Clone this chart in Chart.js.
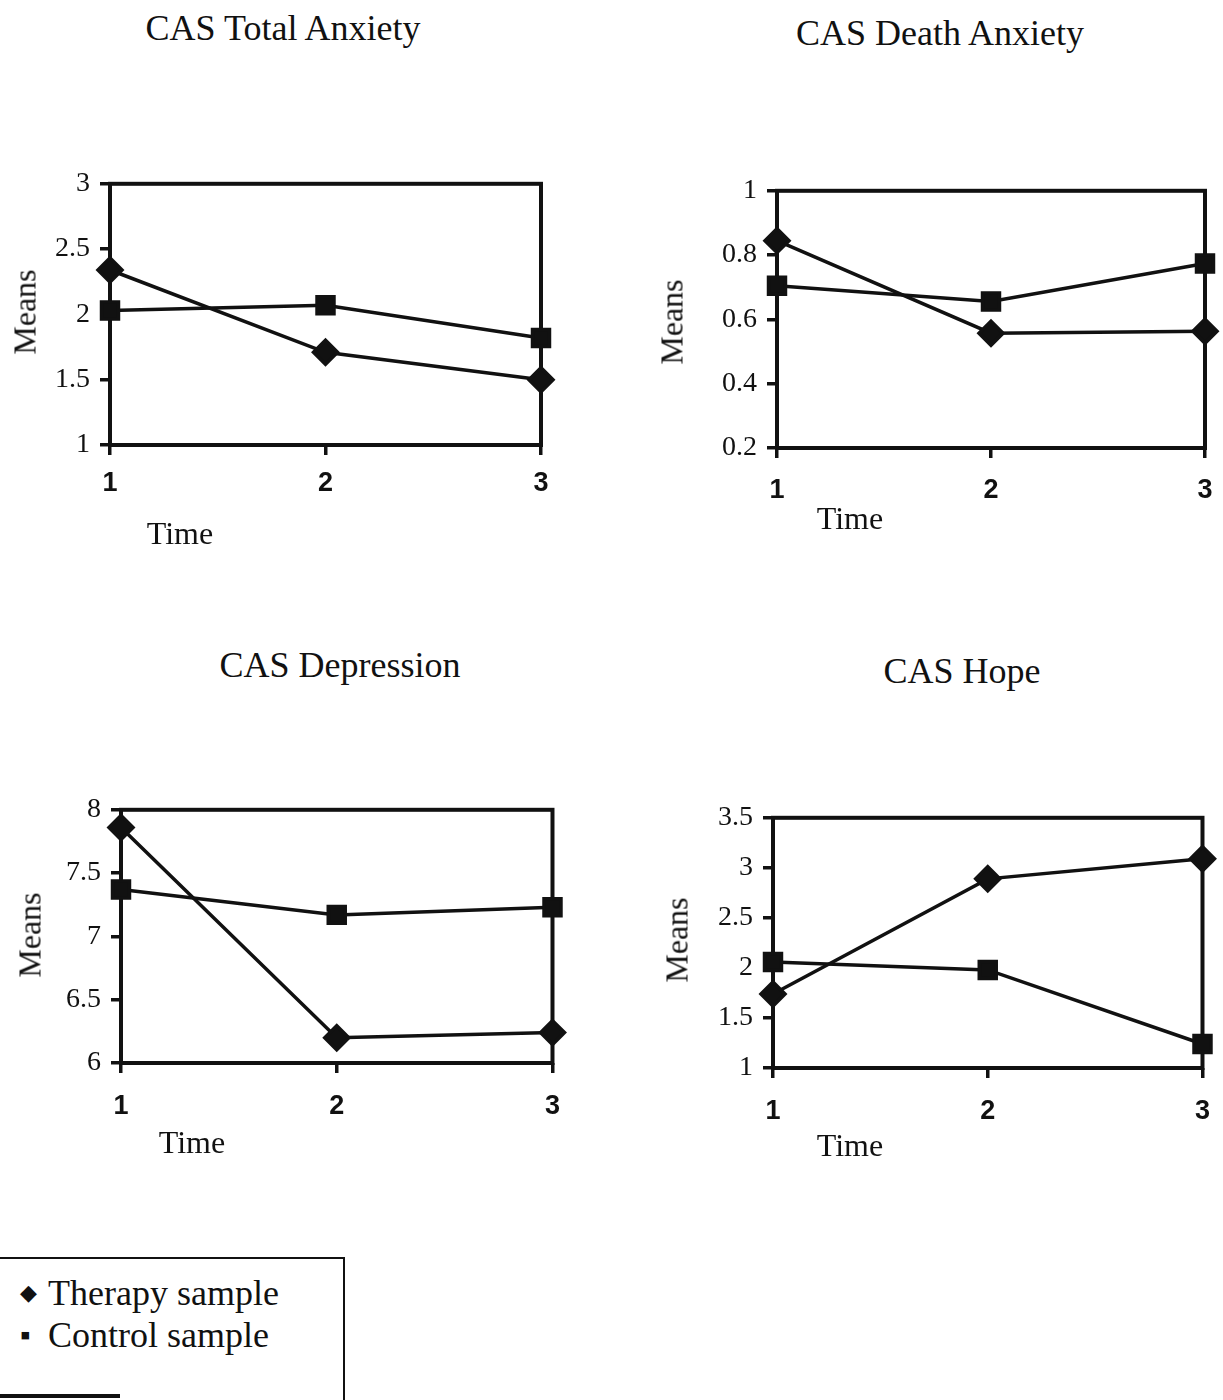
<!DOCTYPE html>
<html>
<head>
<meta charset="utf-8">
<script src="https://cdn.jsdelivr.net/npm/chart.js@4.4.1/dist/chart.umd.min.js"></script>
<style>
  body { margin: 0; background: #fff; width: 1223px; height: 1400px; position: relative; overflow: hidden; font-family: "Liberation Serif", serif; color: #111; }
  canvas { position: absolute; }
  .title { position: absolute; font-size: 36px; white-space: nowrap; transform: translate(-50%, -50%); }
  .axis-y { position: absolute; font-size: 32px; white-space: nowrap; transform: translate(-50%, -50%) rotate(-90deg); }
  .axis-x { position: absolute; font-size: 32px; white-space: nowrap; transform: translate(-50%, -50%); }
  .legend { position: absolute; left: -2px; top: 1257px; width: 345px; height: 160px; border-top: 2px solid #111; border-right: 2px solid #111; }
  .legend-bottom { position: absolute; left: 0; top: 1394px; width: 120px; height: 4px; background: #111; }
  .legend-row { position: absolute; left: 20px; font-size: 36px; white-space: nowrap; }
  .legend-row .mark { display: inline-block; width: 28px; font-size: 22px; vertical-align: 5px; }
  .legend-row .mark.sq { font-size: 30px; vertical-align: 2px; }
</style>
</head>
<body>

<script>
// Data
const timeLabels = ['1', '2', '3'];

const anxietyTherapy = [2.34, 1.71, 1.50];
const anxietyControl = [2.03, 2.07, 1.82];
const anxietyTicks = [1, 1.5, 2, 2.5, 3];

const deathTherapy = [0.845, 0.557, 0.563];
const deathControl = [0.705, 0.656, 0.774];
const deathTicks = [0.2, 0.4, 0.6, 0.8, 1];

const depressionTherapy = [7.86, 6.20, 6.24];
const depressionControl = [7.37, 7.17, 7.23];
const depressionTicks = [6, 6.5, 7, 7.5, 8];

const hopeTherapy = [1.74, 2.89, 3.09];
const hopeControl = [2.06, 1.98, 1.24];
const hopeTicks = [1, 1.5, 2, 2.5, 3, 3.5];

// Layout of each panel: plot box [left, top, right, bottom] and text positions
const Y_AXIS_W = 80;
const X_AXIS_H = 70;
const PAD = 24;

const panels = [
  { title: 'CAS Total Anxiety', therapy: anxietyTherapy, control: anxietyControl, ticks: anxietyTicks,
    box: [110, 181, 541, 445], titlePos: [283, 28], meansPos: [25, 312], timePos: [180, 533], xPad: 12 },
  { title: 'CAS Death Anxiety', therapy: deathTherapy, control: deathControl, ticks: deathTicks,
    box: [777, 188, 1205, 448], titlePos: [940, 33], meansPos: [672, 322], timePos: [850, 518], xPad: 16 },
  { title: 'CAS Depression', therapy: depressionTherapy, control: depressionControl, ticks: depressionTicks,
    box: [121, 807, 553, 1063], titlePos: [340, 665], meansPos: [30, 935], timePos: [192, 1142], xPad: 17 },
  { title: 'CAS Hope', therapy: hopeTherapy, control: hopeControl, ticks: hopeTicks,
    box: [773, 815, 1203, 1068], titlePos: [962, 671], meansPos: [677, 940], timePos: [850, 1145], xPad: 17 }
];

// Draws the closed frame round the plot area
const boxPlugin = {
  id: 'box',
  beforeDatasetsDraw(chart) {
    const { ctx, chartArea: a } = chart;
    ctx.save();
    ctx.lineWidth = 4;
    ctx.strokeStyle = '#111';
    ctx.strokeRect(a.left, a.top, a.right - a.left, a.bottom - a.top);
    ctx.restore();
  }
};

function addText(cls, text, pos) {
  const el = document.createElement('div');
  el.className = cls;
  el.textContent = text;
  el.style.left = pos[0] + 'px';
  el.style.top = pos[1] + 'px';
  document.body.appendChild(el);
}

function makePanel(p) {
  const [l, t, r, b] = p.box;
  const canvas = document.createElement('canvas');
  canvas.width = (r - l) + Y_AXIS_W + PAD * 2;
  canvas.height = (b - t) + X_AXIS_H + PAD * 2;
  canvas.style.left = (l - Y_AXIS_W - PAD) + 'px';
  canvas.style.top = (t - PAD) + 'px';
  document.body.appendChild(canvas);

  new Chart(canvas.getContext('2d'), {
    type: 'line',
    data: {
      labels: timeLabels,
      datasets: [
        { label: 'Therapy sample', data: p.therapy, borderColor: '#111', backgroundColor: '#111',
          borderWidth: 3.5, pointStyle: 'rectRot', pointRadius: 12, clip: false, tension: 0 },
        { label: 'Control sample', data: p.control, borderColor: '#111', backgroundColor: '#111',
          borderWidth: 3.5, pointStyle: 'rect', pointRadius: 12, clip: false, tension: 0 }
      ]
    },
    options: {
      responsive: false,
      animation: false,
      devicePixelRatio: 1,
      layout: { padding: PAD },
      plugins: { legend: { display: false }, tooltip: { enabled: false } },
      scales: {
        x: {
          offset: false,
          grid: { drawOnChartArea: false, drawTicks: true, tickLength: 10, lineWidth: 3.5, color: '#111' },
          border: { display: false },
          ticks: { color: '#111', padding: p.xPad, maxRotation: 0,
                   font: { family: 'Liberation Sans', size: 27, weight: 'bold' } },
          afterFit(scale) { scale.height = X_AXIS_H; }
        },
        y: {
          min: p.ticks[0],
          max: p.ticks[p.ticks.length - 1],
          afterBuildTicks(scale) { scale.ticks = p.ticks.map(v => ({ value: v })); },
          grid: { drawOnChartArea: false, drawTicks: true, tickLength: 10, lineWidth: 3.5, color: '#111' },
          border: { display: false },
          ticks: { color: '#111', padding: 10, callback: v => String(v),
                   font: { family: 'Liberation Serif', size: 28 } },
          afterFit(scale) { scale.width = Y_AXIS_W; }
        }
      }
    },
    plugins: [boxPlugin]
  });

  addText('title', p.title, p.titlePos);
  addText('axis-y', 'Means', p.meansPos);
  addText('axis-x', 'Time', p.timePos);
}

panels.forEach(makePanel);
</script>

<div class="legend"></div>
<div class="legend-bottom"></div>
<div class="legend-row" style="top: 1272px;"><span class="mark">◆</span>Therapy sample</div>
<div class="legend-row" style="top: 1314px;"><span class="mark sq">▪</span>Control sample</div>

</body>
</html>
